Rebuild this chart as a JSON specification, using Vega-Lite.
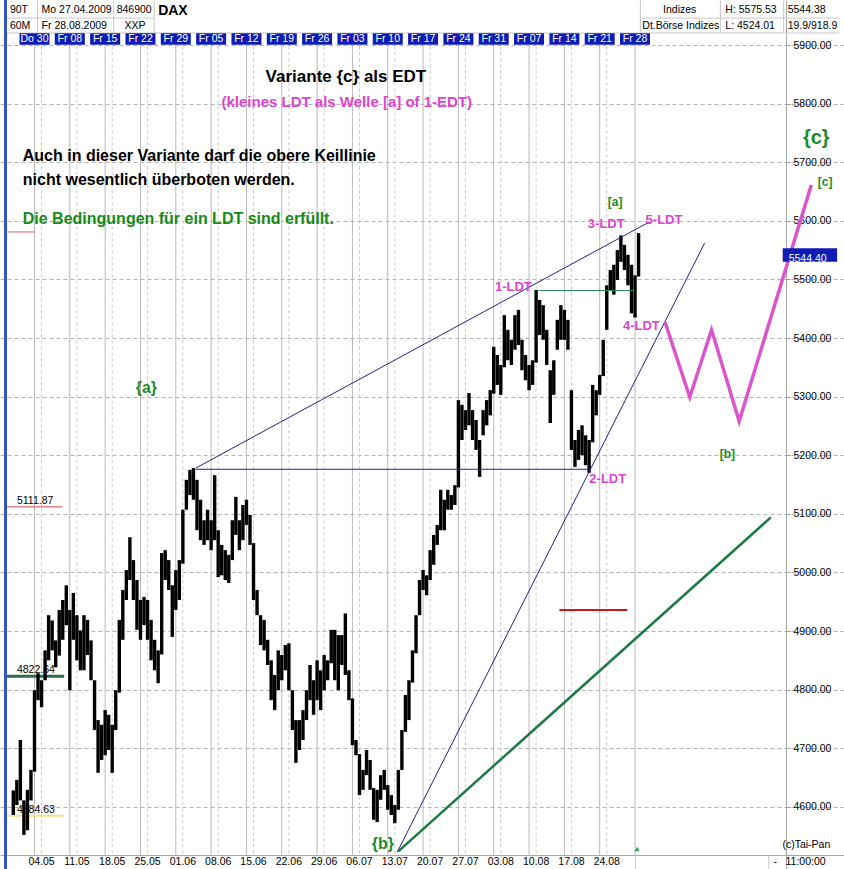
{
"$schema":"https://vega.github.io/schema/vega-lite/v6.json",
"width":844,"height":869,"autosize":{"type":"none"},"padding":0,"background":"white",
"config":{"view":{"stroke":null},"font":"Liberation Sans"},
"datasets":{
"mgrid":[{"d":0,"p":5918,"p2":4518},{"d":5,"p":5918,"p2":4518},{"d":10,"p":5918,"p2":4518},{"d":15,"p":5918,"p2":4518},{"d":20,"p":5918,"p2":4518},{"d":25,"p":5918,"p2":4518},{"d":30,"p":5918,"p2":4518},{"d":35,"p":5918,"p2":4518},{"d":40,"p":5918,"p2":4518},{"d":45,"p":5918,"p2":4518},{"d":50,"p":5918,"p2":4518},{"d":55,"p":5918,"p2":4518},{"d":60,"p":5918,"p2":4518},{"d":65,"p":5918,"p2":4518},{"d":70,"p":5918,"p2":4518},{"d":75,"p":5918,"p2":4518},{"d":80,"p":5918,"p2":4518}],
"fgrid":[{"d":-1,"p":5918,"p2":4518},{"d":4,"p":5918,"p2":4518},{"d":9,"p":5918,"p2":4518},{"d":14,"p":5918,"p2":4518},{"d":19,"p":5918,"p2":4518},{"d":24,"p":5918,"p2":4518},{"d":29,"p":5918,"p2":4518},{"d":34,"p":5918,"p2":4518},{"d":39,"p":5918,"p2":4518},{"d":44,"p":5918,"p2":4518},{"d":49,"p":5918,"p2":4518},{"d":54,"p":5918,"p2":4518},{"d":59,"p":5918,"p2":4518},{"d":64,"p":5918,"p2":4518},{"d":69,"p":5918,"p2":4518},{"d":74,"p":5918,"p2":4518},{"d":79,"p":5918,"p2":4518},{"d":84,"p":5918,"p2":4518}],
"mlabels":[{"d":0,"p":4505.8,"t":"04.05"},{"d":5,"p":4505.8,"t":"11.05"},{"d":10,"p":4505.8,"t":"18.05"},{"d":15,"p":4505.8,"t":"25.05"},{"d":20,"p":4505.8,"t":"01.06"},{"d":25,"p":4505.8,"t":"08.06"},{"d":30,"p":4505.8,"t":"15.06"},{"d":35,"p":4505.8,"t":"22.06"},{"d":40,"p":4505.8,"t":"29.06"},{"d":45,"p":4505.8,"t":"06.07"},{"d":50,"p":4505.8,"t":"13.07"},{"d":55,"p":4505.8,"t":"20.07"},{"d":60,"p":4505.8,"t":"27.07"},{"d":65,"p":4505.8,"t":"03.08"},{"d":70,"p":4505.8,"t":"10.08"},{"d":75,"p":4505.8,"t":"17.08"},{"d":80,"p":4505.8,"t":"24.08"}],
"fbox":[{"d":-1,"p":5910.3,"top":5920,"bot":5900.5,"t":"Do 30"},{"d":4,"p":5910.3,"top":5920,"bot":5900.5,"t":"Fr 08"},{"d":9,"p":5910.3,"top":5920,"bot":5900.5,"t":"Fr 15"},{"d":14,"p":5910.3,"top":5920,"bot":5900.5,"t":"Fr 22"},{"d":19,"p":5910.3,"top":5920,"bot":5900.5,"t":"Fr 29"},{"d":24,"p":5910.3,"top":5920,"bot":5900.5,"t":"Fr 05"},{"d":29,"p":5910.3,"top":5920,"bot":5900.5,"t":"Fr 12"},{"d":34,"p":5910.3,"top":5920,"bot":5900.5,"t":"Fr 19"},{"d":39,"p":5910.3,"top":5920,"bot":5900.5,"t":"Fr 26"},{"d":44,"p":5910.3,"top":5920,"bot":5900.5,"t":"Fr 03"},{"d":49,"p":5910.3,"top":5920,"bot":5900.5,"t":"Fr 10"},{"d":54,"p":5910.3,"top":5920,"bot":5900.5,"t":"Fr 17"},{"d":59,"p":5910.3,"top":5920,"bot":5900.5,"t":"Fr 24"},{"d":64,"p":5910.3,"top":5920,"bot":5900.5,"t":"Fr 31"},{"d":69,"p":5910.3,"top":5920,"bot":5900.5,"t":"Fr 07"},{"d":74,"p":5910.3,"top":5920,"bot":5900.5,"t":"Fr 14"},{"d":79,"p":5910.3,"top":5920,"bot":5900.5,"t":"Fr 21"},{"d":84,"p":5910.3,"top":5920,"bot":5900.5,"t":"Fr 28"}],
"hdrlines":[{"d":-0.56,"p":5976,"d2":-0.56,"p2":5920.5},{"d":10.21,"p":5976,"d2":10.21,"p2":5920.5},{"d":15.94,"p":5976,"d2":15.94,"p2":5920.5},{"d":84.76,"p":5976,"d2":84.76,"p2":5920.5},{"d":96.08,"p":5976,"d2":96.08,"p2":5920.5},{"d":105.03,"p":5976,"d2":105.03,"p2":5920.5},{"d":-5.2,"p":5946,"d2":15.94,"p2":5946},{"d":84.76,"p":5946,"d2":112.9,"p2":5946},{"d":-5.2,"p":5920.5,"d2":112.9,"p2":5920.5},{"d":84.06,"p":4494,"d2":84.06,"p2":4517},{"d":102.94,"p":4494,"d2":102.94,"p2":4517}],
"frame":[{"d":-5.1,"p":4493.9,"p2":5976.8}],
"price":[{"d":-4,"p":4586,"p2":4628},{"d":-3.5,"p":4603,"p2":4646},{"d":-3,"p":4611,"p2":4714},{"d":-2.5,"p":4552,"p2":4611},{"d":-2,"p":4560,"p2":4629},{"d":-1.5,"p":4611,"p2":4663},{"d":-1,"p":4660,"p2":4799},{"d":-0.5,"p":4782,"p2":4828},{"d":0,"p":4770,"p2":4816},{"d":0.5,"p":4816,"p2":4867},{"d":1,"p":4850,"p2":4927},{"d":1.5,"p":4867,"p2":4918},{"d":2,"p":4838,"p2":4884},{"d":2.5,"p":4858,"p2":4936},{"d":3,"p":4885,"p2":4953},{"d":3.5,"p":4910,"p2":4978},{"d":4,"p":4799,"p2":4936},{"d":4.5,"p":4885,"p2":4965},{"d":5,"p":4850,"p2":4927},{"d":5.5,"p":4833,"p2":4901},{"d":6,"p":4833,"p2":4927},{"d":6.5,"p":4859,"p2":4919},{"d":7,"p":4816,"p2":4884},{"d":7.5,"p":4731,"p2":4816},{"d":8,"p":4658,"p2":4748},{"d":8.5,"p":4680,"p2":4740},{"d":9,"p":4688,"p2":4765},{"d":9.5,"p":4697,"p2":4757},{"d":10,"p":4658,"p2":4740},{"d":10.5,"p":4731,"p2":4799},{"d":11,"p":4795,"p2":4919},{"d":11.5,"p":4885,"p2":4970},{"d":12,"p":4953,"p2":5004},{"d":12.5,"p":4987,"p2":5060},{"d":13,"p":4953,"p2":5021},{"d":13.5,"p":4902,"p2":4987},{"d":14,"p":4885,"p2":4953},{"d":14.5,"p":4910,"p2":4958},{"d":15,"p":4885,"p2":4953},{"d":15.5,"p":4850,"p2":4919},{"d":16,"p":4833,"p2":4885},{"d":16.5,"p":4811,"p2":4867},{"d":17,"p":4860,"p2":5033},{"d":17.5,"p":4987,"p2":5038},{"d":18,"p":4970,"p2":5021},{"d":18.5,"p":4890,"p2":4978},{"d":19,"p":4936,"p2":5004},{"d":19.5,"p":4953,"p2":5021},{"d":20,"p":5015,"p2":5107},{"d":20.5,"p":5107,"p2":5158},{"d":21,"p":5132,"p2":5175},{"d":21.5,"p":5124,"p2":5178},{"d":22,"p":5072,"p2":5158},{"d":22.5,"p":5055,"p2":5124},{"d":23,"p":5047,"p2":5089},{"d":23.5,"p":5055,"p2":5107},{"d":24,"p":5038,"p2":5089},{"d":24.5,"p":5055,"p2":5166},{"d":25,"p":4992,"p2":5072},{"d":25.5,"p":4995,"p2":5047},{"d":26,"p":4987,"p2":5038},{"d":26.5,"p":4982,"p2":5030},{"d":27,"p":5021,"p2":5089},{"d":27.5,"p":5064,"p2":5129},{"d":28,"p":5038,"p2":5089},{"d":28.5,"p":5055,"p2":5115},{"d":29,"p":5081,"p2":5124},{"d":29.5,"p":5047,"p2":5098},{"d":30,"p":4953,"p2":5050},{"d":30.5,"p":4927,"p2":4970},{"d":31,"p":4876,"p2":4927},{"d":31.5,"p":4867,"p2":4919},{"d":32,"p":4842,"p2":4885},{"d":32.5,"p":4782,"p2":4850},{"d":33,"p":4765,"p2":4825},{"d":33.5,"p":4799,"p2":4867},{"d":34,"p":4816,"p2":4859},{"d":34.5,"p":4833,"p2":4876},{"d":35,"p":4799,"p2":4879},{"d":35.5,"p":4731,"p2":4799},{"d":36,"p":4675,"p2":4748},{"d":36.5,"p":4697,"p2":4748},{"d":37,"p":4714,"p2":4765},{"d":37.5,"p":4748,"p2":4799},{"d":38,"p":4782,"p2":4842},{"d":38.5,"p":4757,"p2":4816},{"d":39,"p":4782,"p2":4850},{"d":39.5,"p":4765,"p2":4833},{"d":40,"p":4799,"p2":4859},{"d":40.5,"p":4816,"p2":4850},{"d":41,"p":4845,"p2":4902},{"d":41.5,"p":4816,"p2":4902},{"d":42,"p":4799,"p2":4893},{"d":42.5,"p":4842,"p2":4893},{"d":43,"p":4825,"p2":4930},{"d":43.5,"p":4782,"p2":4833},{"d":44,"p":4705,"p2":4785},{"d":44.5,"p":4688,"p2":4714},{"d":45,"p":4620,"p2":4690},{"d":45.5,"p":4629,"p2":4663},{"d":46,"p":4654,"p2":4697},{"d":46.5,"p":4629,"p2":4680},{"d":47,"p":4578,"p2":4632},{"d":47.5,"p":4574,"p2":4629},{"d":48,"p":4612,"p2":4654},{"d":48.5,"p":4629,"p2":4663},{"d":49,"p":4595,"p2":4637},{"d":49.5,"p":4586,"p2":4620},{"d":50,"p":4572,"p2":4603},{"d":50.5,"p":4595,"p2":4663},{"d":51,"p":4663,"p2":4731},{"d":51.5,"p":4728,"p2":4791},{"d":52,"p":4748,"p2":4816},{"d":52.5,"p":4812,"p2":4867},{"d":53,"p":4862,"p2":4927},{"d":53.5,"p":4927,"p2":4987},{"d":54,"p":4970,"p2":5004},{"d":54.5,"p":4961,"p2":4995},{"d":55,"p":4987,"p2":5038},{"d":55.5,"p":5013,"p2":5064},{"d":56,"p":5047,"p2":5081},{"d":56.5,"p":5072,"p2":5141},{"d":57,"p":5072,"p2":5124},{"d":57.5,"p":5107,"p2":5141},{"d":58,"p":5107,"p2":5132},{"d":58.5,"p":5115,"p2":5149},{"d":59,"p":5145,"p2":5294},{"d":59.5,"p":5226,"p2":5286},{"d":60,"p":5243,"p2":5277},{"d":60.5,"p":5251,"p2":5306},{"d":61,"p":5226,"p2":5277},{"d":61.5,"p":5209,"p2":5260},{"d":62,"p":5163,"p2":5226},{"d":62.5,"p":5234,"p2":5277},{"d":63,"p":5251,"p2":5294},{"d":63.5,"p":5268,"p2":5311},{"d":64,"p":5305,"p2":5385},{"d":64.5,"p":5320,"p2":5371},{"d":65,"p":5303,"p2":5354},{"d":65.5,"p":5350,"p2":5439},{"d":66,"p":5362,"p2":5414},{"d":66.5,"p":5354,"p2":5397},{"d":67,"p":5380,"p2":5439},{"d":67.5,"p":5388,"p2":5448},{"d":68,"p":5345,"p2":5397},{"d":68.5,"p":5328,"p2":5371},{"d":69,"p":5311,"p2":5354},{"d":69.5,"p":5320,"p2":5362},{"d":70,"p":5358,"p2":5482},{"d":70.5,"p":5405,"p2":5465},{"d":71,"p":5397,"p2":5456},{"d":71.5,"p":5354,"p2":5414},{"d":72,"p":5255,"p2":5345},{"d":72.5,"p":5303,"p2":5362},{"d":73,"p":5380,"p2":5431},{"d":73.5,"p":5397,"p2":5456},{"d":74,"p":5397,"p2":5448},{"d":74.5,"p":5380,"p2":5431},{"d":75,"p":5209,"p2":5311},{"d":75.5,"p":5180,"p2":5226},{"d":76,"p":5192,"p2":5243},{"d":76.5,"p":5200,"p2":5251},{"d":77,"p":5183,"p2":5234},{"d":77.5,"p":5170,"p2":5226},{"d":78,"p":5222,"p2":5320},{"d":78.5,"p":5268,"p2":5311},{"d":79,"p":5303,"p2":5337},{"d":79.5,"p":5335,"p2":5397},{"d":80,"p":5414,"p2":5490},{"d":80.5,"p":5482,"p2":5516},{"d":81,"p":5474,"p2":5525},{"d":81.5,"p":5499,"p2":5550},{"d":82,"p":5530,"p2":5575},{"d":82.5,"p":5516,"p2":5559},{"d":83,"p":5490,"p2":5542},{"d":83.5,"p":5442,"p2":5525},{"d":84,"p":5435,"p2":5507},{"d":84.5,"p":5505,"p2":5579}],
"segs":[{"name":"upper","d":21.82,"p":5178,"d2":86.01,"p2":5598},{"name":"lower","d":50.35,"p":4523,"d2":93.85,"p2":5562},{"name":"base","d":21.82,"p":5176,"d2":77.6,"p2":5176},{"name":"greenthick","d":50.49,"p":4524,"d2":103.22,"p2":5094},{"name":"greenthin","d":70.35,"p":5481,"d2":83.9,"p2":5481},{"name":"redmid","d":73.3,"p":4936,"d2":82.9,"p2":4936},{"name":"redtop","d":-4.8,"p":5581,"d2":-1.0,"p2":5581}],
"levels":[{"kind":"red","d":-4.9,"d2":2.94,"p":5111.87,"t":"5111.87"},{"kind":"green","d":-4.9,"d2":3.2,"p":4822.64,"t":"4822.64"},{"kind":"yellow","d":-4.9,"d2":3.2,"p":4584.63,"t":"4584.63"}],
"zig":[{"d":88.25,"p":5427},{"d":91.75,"p":5299},{"d":94.83,"p":5414},{"d":98.74,"p":5258},{"d":108.95,"p":5661}],
"lastbox":[{"d":104.9,"d2":112.6,"p":5553,"p2":5530,"t":"5544.40"}],
"cur":[{"d":84.3,"p":4528}],
"texts":[
{"g":"hdr","d":-4.48,"p":5959.7,"t":"90T"},{"g":"hdr","d":0,"p":5959.7,"t":"Mo 27.04.2009"},{"g":"hdr","d":10.63,"p":5959.7,"t":"846900"},{"g":"hdrb","d":16.5,"p":5958,"t":"DAX"},{"g":"hdr","d":87.97,"p":5959.7,"t":"Indizes"},{"g":"hdr","d":96.78,"p":5959.7,"t":"H: 5575.53"},{"g":"hdr","d":105.6,"p":5959.7,"t":"5544.38"},
{"g":"hdr","d":-4.48,"p":5932.4,"t":"60M"},{"g":"hdr","d":0,"p":5932.4,"t":"Fr 28.08.2009"},{"g":"hdr","d":11.75,"p":5932.4,"t":"XXP"},{"g":"hdr","d":85.03,"p":5932.4,"t":"Dt.Börse Indizes"},{"g":"hdr","d":96.78,"p":5932.4,"t":"L: 4524.01"},{"g":"hdr","d":105.6,"p":5932.4,"t":"19.9/918.9"},
{"g":"title","d":43.08,"p":5845.4,"t":"Variante {c} als EDT"},
{"g":"sub","d":43.2,"p":5802.7,"t":"(kleines LDT als Welle [a] of 1-EDT)"},
{"g":"para","d":-2.66,"p":5710.6,"t":"Auch in dieser Variante darf die obere Keillinie"},{"g":"para","d":-2.66,"p":5669.6,"t":"nicht wesentlich überboten werden."},
{"g":"cond","d":-2.66,"p":5603.1,"t":"Die Bedingungen für ein LDT sind erfüllt."},
{"g":"wave","d":14.83,"p":5314.7,"t":"{a}"},{"g":"wave","d":48.32,"p":4536.5,"t":"{b}"},{"g":"wavec","d":109.65,"p":5741.3,"t":"{c}"},
{"g":"wavesq","d":81.19,"p":5632.9,"t":"[a]"},{"g":"wavesq","d":97.06,"p":5202,"t":"[b]"},{"g":"wavesq","d":110.9,"p":5667,"t":"[c]"},
{"g":"ldt","d":66.78,"p":5486.2,"t":"1-LDT"},{"g":"ldt","d":80.14,"p":5159.4,"t":"2-LDT"},{"g":"ldt","d":79.93,"p":5594.5,"t":"3-LDT"},{"g":"ldt","d":84.9,"p":5420.5,"t":"4-LDT"},{"g":"ldt","d":88.1,"p":5601.4,"t":"5-LDT"},
{"g":"misc","d":108.25,"p":4535,"t":"(c)Tai-Pan"},{"g":"miscl","d":105.3,"p":4505.8,"t":"11:00:00"},{"g":"miscl","d":103.6,"p":4505.8,"t":"-"}
]},
"encoding":{
"x":{"field":"d","type":"quantitative","scale":{"domain":[-5.175,112.87],"nice":false,"zero":false},"axis":{"orient":"bottom","offset":-14,"labels":false,"ticks":false,"grid":false,"domainColor":"#a8a8a8","title":null}},
"y":{"field":"p","type":"quantitative","scale":{"domain":[4493.9,5976.8],"nice":false,"zero":false},"axis":{"orient":"right","offset":-58,"values":[4600,4700,4800,4900,5000,5100,5200,5300,5400,5500,5600,5700,5800,5900],"format":".2f","labelFont":"Liberation Sans","labelFontSize":10.5,"labelColor":"#000","tickSize":4,"tickColor":"#999","domainColor":"#a8a8a8","labelPadding":3,"grid":true,"gridColor":"#b4b4b4","gridDash":[4,3],"gridWidth":1,"title":null}}
},
"layer":[
{"data":{"name":"mgrid"},"mark":{"type":"rule","color":"#c8c8c8","strokeDash":[3,3],"strokeWidth":1},"encoding":{"y2":{"field":"p2"}}},
{"data":{"name":"fgrid"},"mark":{"type":"rule","color":"#b8b8b8","strokeWidth":1},"encoding":{"y2":{"field":"p2"}}},
{"data":{"name":"hdrlines"},"mark":{"type":"rule","color":"#c8c8c8","strokeWidth":1},"encoding":{"x2":{"field":"d2"},"y2":{"field":"p2"}}},
{"data":{"name":"fbox"},"mark":{"type":"bar","width":30,"color":"#0c1cb4"},"encoding":{"y":{"field":"top","type":"quantitative"},"y2":{"field":"bot"}}},
{"data":{"name":"fbox"},"mark":{"type":"text","color":"white","fontSize":10.5,"align":"center","baseline":"middle","font":"Liberation Sans"},"encoding":{"text":{"field":"t"}}},
{"data":{"name":"mlabels"},"mark":{"type":"text","color":"#000","fontSize":10.5,"align":"center","baseline":"middle","font":"Liberation Sans"},"encoding":{"text":{"field":"t"}}},
{"data":{"name":"levels"},"transform":[{"filter":"datum.kind==='red'"}],"mark":{"type":"rule","color":"#e08080","strokeWidth":1.5},"encoding":{"x2":{"field":"d2"}}},
{"data":{"name":"levels"},"transform":[{"filter":"datum.kind==='green'"}],"mark":{"type":"rule","color":"#2f6b52","strokeWidth":3},"encoding":{"x2":{"field":"d2"}}},
{"data":{"name":"levels"},"transform":[{"filter":"datum.kind==='yellow'"}],"mark":{"type":"rule","color":"#f2e48a","strokeWidth":2},"encoding":{"x2":{"field":"d2"}}},
{"data":{"name":"levels"},"mark":{"type":"text","color":"#000","fontSize":10.5,"align":"left","baseline":"alphabetic","dx":10,"dy":-3,"font":"Liberation Sans"},"encoding":{"text":{"field":"t"}}},
{"data":{"name":"price"},"mark":{"type":"rule","color":"#000","strokeWidth":3.4},"encoding":{"y2":{"field":"p2"}}},
{"data":{"name":"segs"},"transform":[{"filter":"datum.name==='upper'||datum.name==='lower'||datum.name==='base'"}],"mark":{"type":"rule","color":"#22228a","strokeWidth":1},"encoding":{"x2":{"field":"d2"},"y2":{"field":"p2"}}},
{"data":{"name":"segs"},"transform":[{"filter":"datum.name==='greenthick'"}],"mark":{"type":"rule","color":"#1d7a45","strokeWidth":2.5},"encoding":{"x2":{"field":"d2"},"y2":{"field":"p2"}}},
{"data":{"name":"segs"},"transform":[{"filter":"datum.name==='greenthin'"}],"mark":{"type":"rule","color":"#2a8a5a","strokeWidth":1},"encoding":{"x2":{"field":"d2"},"y2":{"field":"p2"}}},
{"data":{"name":"segs"},"transform":[{"filter":"datum.name==='redmid'"}],"mark":{"type":"rule","color":"#d01818","strokeWidth":2},"encoding":{"x2":{"field":"d2"},"y2":{"field":"p2"}}},
{"data":{"name":"segs"},"transform":[{"filter":"datum.name==='redtop'"}],"mark":{"type":"rule","color":"#e06060","strokeWidth":1},"encoding":{"x2":{"field":"d2"},"y2":{"field":"p2"}}},
{"data":{"name":"zig"},"mark":{"type":"line","color":"#dd55cc","strokeWidth":3.5},"encoding":{}},
{"data":{"name":"lastbox"},"mark":{"type":"rect","color":"#0c1cb4"},"encoding":{"x2":{"field":"d2"},"y2":{"field":"p2"}}},
{"data":{"name":"lastbox"},"mark":{"type":"text","color":"white","fontSize":10.5,"align":"left","baseline":"middle","dx":6,"dy":11,"font":"Liberation Sans"},"encoding":{"text":{"field":"t"}}},
{"data":{"name":"cur"},"mark":{"type":"point","shape":"triangle-up","filled":true,"color":"#2fa84f","size":28,"opacity":1},"encoding":{}},
{"data":{"name":"texts"},"transform":[{"filter":"datum.g==='hdr'"}],"mark":{"type":"text","align":"left","baseline":"middle","fontSize":10.5,"color":"#000","font":"Liberation Sans"},"encoding":{"text":{"field":"t"}}},
{"data":{"name":"texts"},"transform":[{"filter":"datum.g==='hdrb'"}],"mark":{"type":"text","align":"left","baseline":"middle","fontSize":14,"fontWeight":"bold","color":"#000","font":"Liberation Sans"},"encoding":{"text":{"field":"t"}}},
{"data":{"name":"texts"},"transform":[{"filter":"datum.g==='title'"}],"mark":{"type":"text","align":"center","baseline":"middle","fontSize":17,"fontWeight":"bold","color":"#000","font":"Liberation Sans"},"encoding":{"text":{"field":"t"}}},
{"data":{"name":"texts"},"transform":[{"filter":"datum.g==='sub'"}],"mark":{"type":"text","align":"center","baseline":"middle","fontSize":15,"fontWeight":"bold","color":"#dd44cc","font":"Liberation Sans"},"encoding":{"text":{"field":"t"}}},
{"data":{"name":"texts"},"transform":[{"filter":"datum.g==='para'"}],"mark":{"type":"text","align":"left","baseline":"middle","fontSize":16,"fontWeight":"bold","color":"#000","font":"Liberation Sans"},"encoding":{"text":{"field":"t"}}},
{"data":{"name":"texts"},"transform":[{"filter":"datum.g==='cond'"}],"mark":{"type":"text","align":"left","baseline":"middle","fontSize":16,"fontWeight":"bold","color":"#168a16","font":"Liberation Sans"},"encoding":{"text":{"field":"t"}}},
{"data":{"name":"texts"},"transform":[{"filter":"datum.g==='wave'"}],"mark":{"type":"text","align":"center","baseline":"middle","fontSize":16,"fontWeight":"bold","color":"#1e8a2a","font":"Liberation Sans"},"encoding":{"text":{"field":"t"}}},
{"data":{"name":"texts"},"transform":[{"filter":"datum.g==='wavec'"}],"mark":{"type":"text","align":"center","baseline":"middle","fontSize":20,"fontWeight":"bold","color":"#1e8a2a","font":"Liberation Sans"},"encoding":{"text":{"field":"t"}}},
{"data":{"name":"texts"},"transform":[{"filter":"datum.g==='wavesq'"}],"mark":{"type":"text","align":"center","baseline":"middle","fontSize":12,"fontWeight":"bold","color":"#1e8a2a","font":"Liberation Sans"},"encoding":{"text":{"field":"t"}}},
{"data":{"name":"texts"},"transform":[{"filter":"datum.g==='ldt'"}],"mark":{"type":"text","align":"center","baseline":"middle","fontSize":13,"fontWeight":"bold","color":"#dd44cc","font":"Liberation Sans"},"encoding":{"text":{"field":"t"}}},
{"data":{"name":"texts"},"transform":[{"filter":"datum.g==='misc'"}],"mark":{"type":"text","align":"center","baseline":"middle","fontSize":10.5,"color":"#000","font":"Liberation Sans"},"encoding":{"text":{"field":"t"}}},
{"data":{"name":"texts"},"transform":[{"filter":"datum.g==='miscl'"}],"mark":{"type":"text","align":"left","baseline":"middle","fontSize":10.5,"color":"#000","font":"Liberation Sans"},"encoding":{"text":{"field":"t"}}},
{"data":{"name":"frame"},"mark":{"type":"rule","color":"#3355bb","strokeWidth":3},"encoding":{"y2":{"field":"p2"}}}
]
}
